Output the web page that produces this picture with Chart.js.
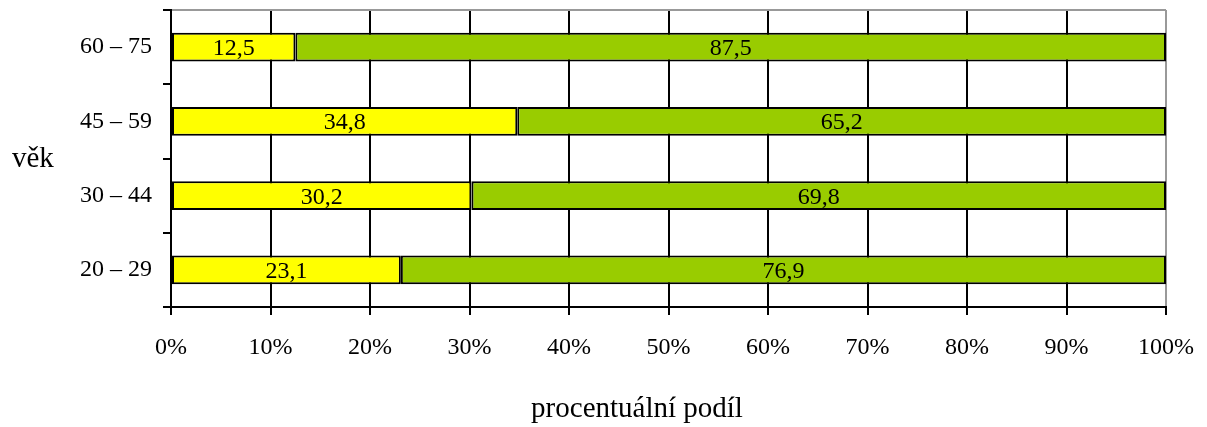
<!DOCTYPE html>
<html>
<head>
<meta charset="utf-8">
<script src="https://cdn.jsdelivr.net/npm/chart.js@4"></script>
<style>
  body { margin: 0; background: #fff; }
  #wrap { width: 1207px; height: 427px; }
</style>
</head>
<body>
<div id="wrap"><canvas id="graf"></canvas></div>
<script>
const categories = ['60 – 75', '45 – 59', '30 – 44', '20 – 29']
const seriesYellow = [12.5, 34.8, 30.2, 23.1]
const seriesGreen = [87.5, 65.2, 69.8, 76.9]
const xTicks = [0, 10, 20, 30, 40, 50, 60, 70, 80, 90, 100]
const yTitle = 'věk'
const xTitle = 'procentuální podíl'

const font = 'Liberation Serif, Times New Roman, serif'

// popisky hodnot uprostred sloupcu + popisky os
const labelsPlugin = {
  id: 'labels',
  afterDatasetsDraw(chart) {
    const ctx = chart.ctx
    ctx.save()
    ctx.font = '24px ' + font
    ctx.fillStyle = '#000'
    ctx.textAlign = 'center'
    ctx.textBaseline = 'alphabetic'
    chart.data.datasets.forEach((ds, i) => {
      chart.getDatasetMeta(i).data.forEach((bar, j) => {
        const p = bar.getCenterPoint()
        ctx.fillText(ds.data[j].toFixed(1).replace('.', ','), p.x, p.y + 8)
      })
    })
    ctx.restore()
  },
  afterDraw(chart) {
    const ctx = chart.ctx
    ctx.save()
    ctx.font = '29px ' + font
    ctx.fillStyle = '#000'
    ctx.textBaseline = 'alphabetic'
    ctx.textAlign = 'left'
    ctx.fillText(yTitle, 12, 167)
    ctx.textAlign = 'center'
    ctx.fillText(xTitle, 637, 417)
    ctx.restore()
  }
}

const data = {
  labels: categories,
  datasets: [
    {
      data: seriesYellow,
      backgroundColor: '#ffff00',
      borderColor: '#000',
      borderWidth: 2,
      borderSkipped: false,
      barPercentage: 0.39,
      categoryPercentage: 1
    },
    {
      data: seriesGreen,
      backgroundColor: '#99cc00',
      borderColor: '#000',
      borderWidth: 2,
      borderSkipped: false,
      barPercentage: 0.39,
      categoryPercentage: 1
    }
  ]
}

const config = {
  type: 'bar',
  data: data,
  plugins: [labelsPlugin],
  options: {
    indexAxis: 'y',
    responsive: true,
    maintainAspectRatio: false,
    animation: false,
    layout: { padding: { top: 10, right: 41, left: 0, bottom: 0 } },
    plugins: {
      legend: { display: false },
      tooltip: { enabled: false }
    },
    scales: {
      x: {
        stacked: true,
        min: 0,
        max: 100,
        afterBuildTicks: scale => { scale.ticks = xTicks.map(v => ({ value: v })) },
        afterFit: scale => {
          scale.height = 120
          scale.paddingLeft = 0
          scale.paddingRight = 0
        },
        border: { color: '#000', width: 2 },
        grid: {
          color: c => (c.tick && c.tick.value === 100 ? '#999' : '#000'),
          tickColor: '#000',
          lineWidth: 2,
          tickLength: 8
        },
        ticks: {
          color: '#000',
          padding: 18,
          maxRotation: 0,
          font: { family: font, size: 24 },
          callback: v => v + '%'
        }
      },
      y: {
        stacked: true,
        afterFit: scale => {
          scale.width = 171
          scale.paddingTop = 0
          scale.paddingBottom = 0
        },
        border: { color: '#000', width: 2 },
        grid: {
          offset: true,
          color: c => (c.index === 0 ? '#999' : 'rgba(0,0,0,0)'),
          tickColor: '#000',
          lineWidth: 2,
          tickLength: 8
        },
        ticks: {
          color: '#000',
          padding: 11,
          font: { family: font, size: 24 }
        }
      }
    }
  }
}

new Chart(document.getElementById('graf'), config)
</script>
</body>
</html>
